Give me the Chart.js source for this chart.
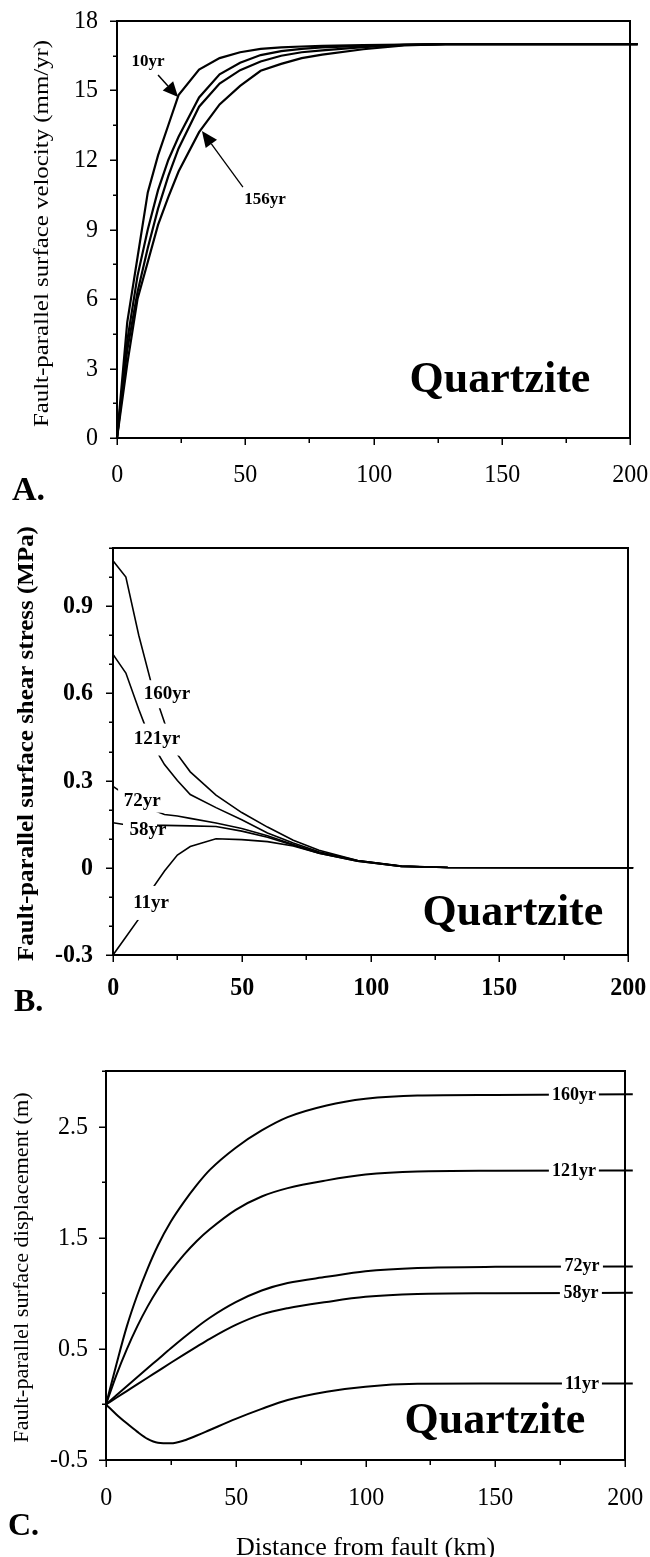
<!DOCTYPE html>
<html>
<head>
<meta charset="utf-8">
<script src="https://cdn.jsdelivr.net/npm/chart.js@4.4.1/dist/chart.umd.min.js"></script>
<style>
  html, body { margin: 0; padding: 0; background: #fff; }
  body { width: 650px; height: 1557px; position: relative; overflow: hidden; }
  canvas { position: absolute; left: 0; }
</style>
</head>
<body>
<canvas id="chartA" width="650" height="520" style="top:0px"></canvas>
<canvas id="chartB" width="650" height="520" style="top:520px"></canvas>
<canvas id="chartC" width="650" height="517" style="top:1040px"></canvas>
<script>
// shared x axis: distance from fault (km)
const distLabels = [0, 50, 100, 150, 200];

// A. fault-parallel surface velocity (mm/yr)
const velX     = [0, 4, 8, 12, 16, 20, 24, 32, 40, 48, 56, 64, 72, 80, 96, 112, 128, 203];
const vel10yr  = [0, 5.0, 7.8, 10.6, 12.2, 13.5, 14.8, 15.9, 16.4, 16.65, 16.8, 16.86, 16.9, 16.93, 16.96, 16.98, 17, 17];
const velMid1  = [0, 4.2, 7.0, 9.0, 10.7, 12.0, 13.0, 14.7, 15.7, 16.2, 16.53, 16.7, 16.8, 16.86, 16.93, 16.97, 17, 17];
const velMid2  = [0, 3.8, 6.3, 8.2, 9.9, 11.3, 12.5, 14.3, 15.3, 15.88, 16.25, 16.5, 16.65, 16.73, 16.87, 16.97, 17, 17];
const vel156yr = [0, 3.2, 6.0, 7.6, 9.2, 10.4, 11.5, 13.2, 14.4, 15.2, 15.85, 16.15, 16.4, 16.55, 16.78, 16.95, 17, 17];
const velLabels = [0, 3, 6, 9, 12, 15, 18];

// B. fault-parallel surface shear stress (MPa)
const stressX     = [0, 5, 10, 15, 20, 25, 30, 40, 50, 60, 70, 80, 95, 112, 130, 202];
const stress160yr = [1.056, 1.0, 0.80, 0.63, 0.50, 0.39, 0.33, 0.25, 0.19, 0.14, 0.095, 0.06, 0.025, 0.006, 0.001, 0];
const stress121yr = [0.734, 0.67, 0.545, 0.43, 0.355, 0.30, 0.252, 0.207, 0.165, 0.12, 0.085, 0.055, 0.025, 0.006, 0.001, 0];
const stress72yr  = [0.28, 0.25, 0.225, 0.20, 0.183, 0.178, 0.17, 0.154, 0.135, 0.11, 0.08, 0.052, 0.024, 0.005, 0.001, 0];
const stress58yr  = [0.155, 0.148, 0.146, 0.146, 0.146, 0.145, 0.144, 0.142, 0.126, 0.105, 0.078, 0.05, 0.023, 0.005, 0.001, 0];
const stress11yr  = [-0.30, -0.238, -0.176, -0.075, -0.011, 0.044, 0.073, 0.10, 0.097, 0.09, 0.075, 0.05, 0.023, 0.005, 0.001, 0];
const stressLabels = [-0.3, 0, 0.3, 0.6, 0.9];

// C. fault-parallel surface displacement (m)
const dispX     = [0, 4, 8, 12, 16, 20, 25, 30, 35, 40, 50, 60, 70, 85, 100, 120, 150, 203];
const disp160yr = [0, 0.36, 0.70, 0.98, 1.22, 1.43, 1.645, 1.82, 1.975, 2.11, 2.31, 2.465, 2.585, 2.69, 2.75, 2.78, 2.785, 2.79];
const disp121yr = [0, 0.264, 0.496, 0.70, 0.88, 1.036, 1.201, 1.346, 1.471, 1.576, 1.751, 1.871, 1.946, 2.016, 2.068, 2.096, 2.103, 2.105];
const disp72yr  = [0, 0.082, 0.164, 0.245, 0.325, 0.405, 0.505, 0.602, 0.695, 0.78, 0.92, 1.025, 1.092, 1.148, 1.198, 1.228, 1.238, 1.24];
const disp58yr  = [0, 0.06, 0.12, 0.18, 0.24, 0.30, 0.375, 0.448, 0.52, 0.59, 0.715, 0.81, 0.866, 0.922, 0.968, 0.993, 1.0, 1.004];
const disp11yr  = [0, -0.09, -0.17, -0.245, -0.31, -0.345, -0.35, -0.325, -0.28, -0.23, -0.13, -0.04, 0.04, 0.115, 0.16, 0.185, 0.188, 0.188];
const dispLabels = [-0.5, 0.5, 1.5, 2.5];

const SERIF = '"Liberation Serif", "Times New Roman", serif';

const toXY = (xs, ys) => xs.map((v, i) => ({x: v, y: ys[i]}));
const isLabel = (list, v) => list.some(l => Math.abs(l - v) < 1e-6);
const fmt = v => String(Math.round(v * 10) / 10);

function drawText(ctx, s, x, y, font, o) {
    o = o || {};
    ctx.save();
    ctx.translate(x, y);
    if (o.rot) ctx.rotate(o.rot);
    ctx.scale(o.sx || 1, o.sy || 1);
    ctx.font = font;
    ctx.fillStyle = '#000';
    ctx.textAlign = o.align || 'center';
    ctx.textBaseline = o.base || 'middle';
    ctx.fillText(s, 0, 0);
    ctx.restore();
}

// frame, tick marks and tick labels, curve labels, arrows and panel texts
const panelPlugin = {
    id: 'panel',
    afterDatasetsDraw(chart, args, o) {
        const {ctx, chartArea: a} = chart;
        const x = chart.scales.x, y = chart.scales.y;
        ctx.save();

        // white boxes that break the curves under their labels
        (o.labels || []).forEach(l => {
            const px = x.getPixelForValue(l.x), py = y.getPixelForValue(l.y);
            if (l.box) {
                ctx.fillStyle = '#fff';
                ctx.fillRect(px + (l.box[2] || 0) - l.box[0] / 2, py - l.box[1] / 2, l.box[0], l.box[1]);
            }
        });

        ctx.strokeStyle = '#000';
        ctx.lineWidth = 2;
        ctx.strokeRect(a.left, a.top, a.right - a.left, a.bottom - a.top);

        ctx.lineWidth = 1.5;
        ctx.beginPath();
        y.ticks.forEach(t => {
            const p = Math.round(y.getPixelForValue(t.value)) + 0.25;
            const major = isLabel(o.yLabels, t.value);
            const len = major ? 7 : 4;
            ctx.moveTo(a.left - len, p);
            ctx.lineTo(a.left, p);
            if (major) drawText(ctx, fmt(t.value), a.left - o.yPad, p, o.tickFont, {align: 'right', sy: 1.08});
        });
        x.ticks.forEach(t => {
            const p = Math.round(x.getPixelForValue(t.value)) + 0.25;
            const major = isLabel(distLabels, t.value);
            const len = major ? 7 : 5;
            ctx.moveTo(p, a.bottom);
            ctx.lineTo(p, a.bottom + len);
            if (major) drawText(ctx, String(t.value), p, a.bottom + o.xOff, o.tickFont, {sy: 1.08});
        });
        ctx.stroke();

        (o.labels || []).forEach(l => {
            drawText(ctx, l.text, x.getPixelForValue(l.x), y.getPixelForValue(l.y), o.labelFont);
        });

        (o.arrows || []).forEach(r => {
            const x0 = x.getPixelForValue(r.from[0]), y0 = y.getPixelForValue(r.from[1]);
            const x1 = x.getPixelForValue(r.to[0]), y1 = y.getPixelForValue(r.to[1]);
            const ang = Math.atan2(y1 - y0, x1 - x0);
            const c = Math.cos(ang), s = Math.sin(ang);
            const bx = x1 - r.head * c, by = y1 - r.head * s;
            ctx.lineWidth = r.width;
            ctx.beginPath();
            ctx.moveTo(x0, y0);
            ctx.lineTo(bx, by);
            ctx.stroke();
            ctx.fillStyle = '#000';
            ctx.beginPath();
            ctx.moveTo(x1, y1);
            ctx.lineTo(bx - r.half * s, by + r.half * c);
            ctx.lineTo(bx + r.half * s, by - r.half * c);
            ctx.closePath();
            ctx.fill();
        });

        if (o.quartz) {
            drawText(ctx, 'Quartzite', x.getPixelForValue(o.quartz[0]), y.getPixelForValue(o.quartz[1]),
                'bold 44px ' + SERIF, {base: 'alphabetic'});
        }
        const yt = o.yTitle;
        drawText(ctx, yt.text, yt.x, yt.y, yt.font, {rot: -Math.PI / 2, sx: yt.sx});
        if (o.xTitle) {
            drawText(ctx, o.xTitle.text, (a.left + a.right) / 2, o.xTitle.y, o.xTitle.font, {base: 'alphabetic'});
        }
        drawText(ctx, o.letter.text, o.letter.x, o.letter.y, 'bold ' + o.letter.size + 'px ' + SERIF,
            {align: 'left', base: 'alphabetic'});
        ctx.restore();
    }
};

function makeChart(id, cfg) {
    return new Chart(document.getElementById(id), {
        type: 'line',
        data: {
            datasets: cfg.series.map(s => ({
                label: s.name,
                data: toXY(cfg.xs, s.ys),
                borderColor: '#000',
                borderWidth: cfg.lineWidth,
                pointRadius: 0,
                tension: 0,
                cubicInterpolationMode: cfg.smooth ? 'monotone' : 'default',
                fill: false,
                clip: false
            }))
        },
        options: {
            responsive: false,
            animation: false,
            events: [],
            layout: {padding: cfg.padding},
            plugins: {
                legend: {display: false},
                tooltip: {enabled: false},
                panel: cfg.panel
            },
            scales: {
                x: {
                    type: 'linear', min: 0, max: 200,
                    afterFit: s => { s.height = cfg.xHeight; },
                    grid: {display: false, drawTicks: false},
                    border: {display: false},
                    ticks: {stepSize: 25, autoSkip: false, display: false}
                },
                y: {
                    type: 'linear', min: cfg.yMin, max: cfg.yMax,
                    afterFit: s => { s.width = cfg.yWidth; },
                    grid: {display: false, drawTicks: false},
                    border: {display: false},
                    ticks: {stepSize: cfg.yStep, autoSkip: false, display: false}
                }
            }
        },
        plugins: [panelPlugin]
    });
}

makeChart('chartA', {
    xs: velX,
    series: [
        {name: '10yr', ys: vel10yr},
        {name: 'mid1', ys: velMid1},
        {name: 'mid2', ys: velMid2},
        {name: '156yr', ys: vel156yr}
    ],
    lineWidth: 2.2,
    padding: {top: 21, right: 20, left: 0, bottom: 22},
    xHeight: 60, yWidth: 117,
    yMin: 0, yMax: 18, yStep: 1.5,
    panel: {
        yLabels: velLabels,
        tickFont: '24px ' + SERIF, yPad: 19, xOff: 37,
        labelFont: 'bold 17px ' + SERIF,
        labels: [
            {text: '10yr', x: 12.1, y: 16.23},
            {text: '156yr', x: 57.7, y: 10.27}
        ],
        arrows: [
            {from: [16.0, 15.67], to: [23.8, 14.72], head: 15, half: 7, width: 1.5},
            {from: [49.1, 10.83], to: [33.1, 13.25], head: 16, half: 7, width: 1.3}
        ],
        quartz: [149.3, 1.99],
        yTitle: {text: 'Fault-parallel surface velocity (mm/yr)', x: 42, y: 233.5, font: '22px ' + SERIF, sx: 1.13},
        letter: {text: 'A.', x: 12, y: 500, size: 34}
    }
});

makeChart('chartB', {
    xs: stressX,
    series: [
        {name: '160yr', ys: stress160yr},
        {name: '121yr', ys: stress121yr},
        {name: '72yr', ys: stress72yr},
        {name: '58yr', ys: stress58yr},
        {name: '11yr', ys: stress11yr}
    ],
    lineWidth: 1.6,
    padding: {top: 28, right: 22, left: 0, bottom: 20},
    xHeight: 65, yWidth: 113,
    yMin: -0.3, yMax: 1.1, yStep: 0.1,
    panel: {
        yLabels: stressLabels,
        tickFont: 'bold 24px ' + SERIF, yPad: 20, xOff: 33,
        labelFont: 'bold 19px ' + SERIF,
        labels: [
            {text: '160yr', x: 21.0, y: 0.597, box: [50, 28]},
            {text: '121yr', x: 17.1, y: 0.441, box: [54, 32]},
            {text: '72yr', x: 11.3, y: 0.231, box: [48, 24]},
            {text: '58yr', x: 13.6, y: 0.131, box: [34, 22, -8]},
            {text: '11yr', x: 14.8, y: -0.121, box: [44, 34]}
        ],
        quartz: [155.3, -0.197],
        yTitle: {text: 'Fault-parallel surface shear stress (MPa)', x: 26.5, y: 223.5, font: 'bold 24px ' + SERIF, sx: 1.04},
        letter: {text: 'B.', x: 14, y: 491, size: 32}
    }
});

makeChart('chartC', {
    xs: dispX,
    series: [
        {name: '160yr', ys: disp160yr},
        {name: '121yr', ys: disp121yr},
        {name: '72yr', ys: disp72yr},
        {name: '58yr', ys: disp58yr},
        {name: '11yr', ys: disp11yr}
    ],
    lineWidth: 2,
    smooth: true,
    padding: {top: 31, right: 25, left: 0, bottom: 20},
    xHeight: 77, yWidth: 106,
    yMin: -0.5, yMax: 3, yStep: 0.5,
    panel: {
        yLabels: dispLabels,
        tickFont: '24px ' + SERIF, yPad: 18, xOff: 38,
        labelFont: 'bold 18px ' + SERIF,
        labels: [
            {text: '160yr', x: 180.3, y: 2.785, box: [50, 18]},
            {text: '121yr', x: 180.3, y: 2.10, box: [50, 18]},
            {text: '72yr', x: 183.4, y: 1.24, box: [42, 18]},
            {text: '58yr', x: 183.0, y: 1.0, box: [42, 18]},
            {text: '11yr', x: 183.4, y: 0.18, box: [40, 18]}
        ],
        quartz: [149.9, -0.258],
        yTitle: {text: 'Fault-parallel surface displacement (m)', x: 22.5, y: 227.5, font: '21px ' + SERIF, sx: 1.06},
        xTitle: {text: 'Distance from fault (km)', y: 515, font: '26px ' + SERIF},
        letter: {text: 'C.', x: 8, y: 495, size: 32}
    }
});
</script>
</body>
</html>
